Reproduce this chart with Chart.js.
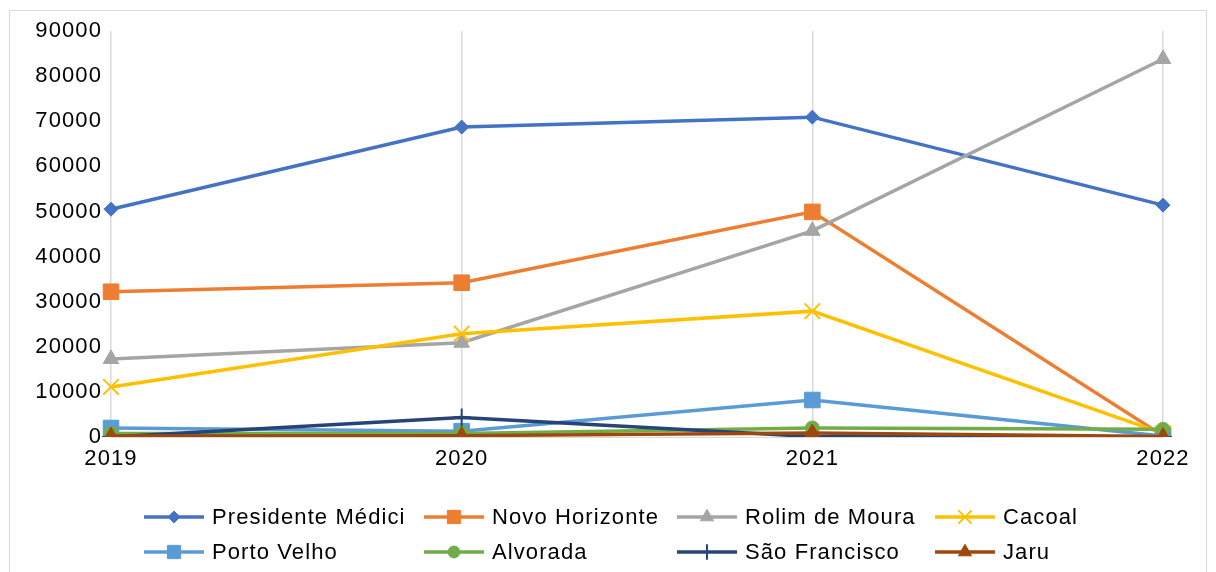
<!DOCTYPE html>
<html>
<head>
<meta charset="utf-8">
<script src="https://cdn.jsdelivr.net/npm/chart.js@4.4.1/dist/chart.umd.min.js"></script>
<style>
  html, body { margin: 0; padding: 0; background: #fff; }
  #box { position: absolute; left: 9px; top: 10px; width: 1196px; height: 600px; border: 1px solid #d9d9d9; }
  #wrap { position: absolute; left: 0; top: 0; width: 1216px; height: 572px; }
</style>
</head>
<body>
<div id="box"></div>
<div id="wrap"><canvas id="chart" width="1216" height="572"></canvas></div>
<script>
// anos
const years = ["2019", "2020", "2021", "2022"];

// valores por município
const presidenteMedici = [50500, 68700, 70900, 51400];
const novoHorizonte = [32200, 34200, 49900, 300];
const rolimDeMoura = [17300, 20900, 45700, 83800];
const cacoal = [11100, 22900, 27900, 800];
const portoVelho = [2000, 1300, 8200, 200];
const alvorada = [800, 800, 2000, 1700];
const saoFrancisco = [0, 4300, 100, 0];
const jaru = [200, 300, 900, 100];

const yTicks = [0, 10000, 20000, 30000, 40000, 50000, 60000, 70000, 80000, 90000];

const series = [
  { label: "Presidente Médici", data: presidenteMedici, color: "#4472C4", style: "rectRot", r: 7 },
  { label: "Novo Horizonte", data: novoHorizonte, color: "#ED7D31", style: "rect", r: 11 },
  { label: "Rolim de Moura", data: rolimDeMoura, color: "#A5A5A5", style: "triangle", r: 9 },
  { label: "Cacoal", data: cacoal, color: "#FFC000", style: "crossRot", r: 11 },
  { label: "Porto Velho", data: portoVelho, color: "#5B9BD5", style: "rect", r: 11 },
  { label: "Alvorada", data: alvorada, color: "#70AD47", style: "circle", r: 7 },
  { label: "São Francisco", data: saoFrancisco, color: "#264478", style: "cross", r: 9 },
  { label: "Jaru", data: jaru, color: "#9E480E", style: "triangle", r: 9 },
];

const FONT = "'Liberation Sans', Arial, sans-serif";
const SPACING = "1.1px";

const spacingPlugin = {
  id: "spacing",
  beforeLayout(chart) { chart.ctx.letterSpacing = SPACING; },
  beforeDraw(chart) { chart.ctx.letterSpacing = SPACING; },
};

// legenda em colunas como no Excel
const legendPlugin = {
  id: "colLegend",
  afterDraw(chart) {
    const ctx = chart.ctx;
    const cols = [144, 424, 677, 935];
    const rows = [517, 552];
    ctx.save();
    ctx.letterSpacing = SPACING;
    series.forEach((s, i) => {
      const x = cols[i % 4];
      const y = rows[Math.floor(i / 4)];
      ctx.strokeStyle = s.color;
      ctx.lineWidth = 3.5;
      ctx.beginPath();
      ctx.moveTo(x, y);
      ctx.lineTo(x + 60, y);
      ctx.stroke();
      const opts = {
        pointStyle: s.style,
        radius: s.r * 0.85,
        rotation: 0,
        borderWidth: (s.style === "cross" || s.style === "crossRot") ? 2 : 1,
      };
      ctx.fillStyle = s.color;
      ctx.strokeStyle = s.color;
      ctx.lineWidth = opts.borderWidth;
      if (Chart.helpers && Chart.helpers.drawPoint) {
        Chart.helpers.drawPoint(ctx, opts, x + 30, y);
      }
      ctx.fillStyle = "#000";
      ctx.font = "22px " + FONT;
      ctx.textBaseline = "middle";
      ctx.textAlign = "left";
      ctx.fillText(s.label, x + 68, y + 1);
    });
    ctx.restore();
  },
};

const ctx = document.getElementById("chart").getContext("2d");

new Chart(ctx, {
  type: "line",
  data: {
    labels: years,
    datasets: series.map((s, i) => ({
      label: s.label,
      data: s.data,
      borderColor: s.color,
      backgroundColor: s.color,
      borderWidth: 3.5,
      pointStyle: s.style,
      pointRadius: s.r,
      pointHoverRadius: s.r,
      pointBackgroundColor: s.color,
      pointBorderColor: s.color,
      pointBorderWidth: (s.style === "cross" || s.style === "crossRot") ? 2 : 1,
      tension: 0,
      fill: false,
      order: series.length - i,
    })),
  },
  options: {
    responsive: false,
    animation: false,
    devicePixelRatio: 1,
    layout: { padding: { left: 0, right: 53, top: 31, bottom: 0 } },
    plugins: {
      legend: { display: false },
      title: { display: false },
      tooltip: { enabled: false },
    },
    scales: {
      x: {
        type: "category",
        offset: false,
        grid: { color: "#d9d9d9", lineWidth: 1.5, drawTicks: false },
        border: { display: true, color: "#d9d9d9" },
        ticks: {
          color: "#000",
          font: { family: FONT, size: 22 },
          padding: 9,
          maxRotation: 0,
        },
        afterFit(scale) { scale.height = 135; },
      },
      y: {
        min: 0,
        max: 90000,
        afterBuildTicks(scale) { scale.ticks = yTicks.map((v) => ({ value: v })); },
        grid: { display: false, drawTicks: false },
        border: { display: false },
        ticks: {
          color: "#000",
          font: { family: FONT, size: 22 },
          padding: 9,
          callback: (v) => String(v),
        },
        afterFit(scale) { scale.width = 111; },
      },
    },
  },
  plugins: [spacingPlugin, legendPlugin],
});
</script>
</body>
</html>
